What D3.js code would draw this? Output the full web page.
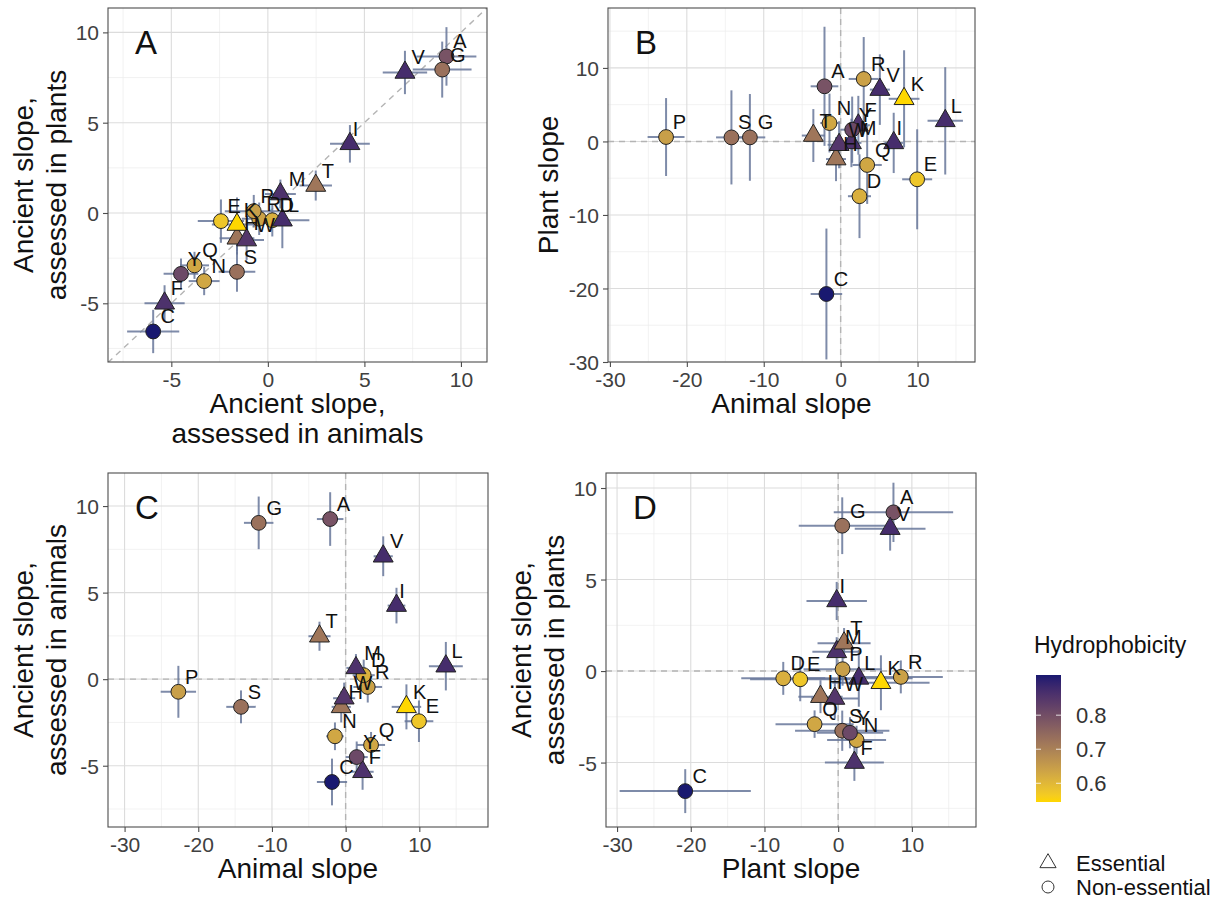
<!DOCTYPE html>
<html>
<head>
<meta charset="utf-8">
<script src="https://cdn.jsdelivr.net/npm/d3@7"></script>
<style>
  body { margin: 0; background: #fff; }
  svg { display: block; font-family: "Liberation Sans", Arial, sans-serif; }
</style>
</head>
<body>
<div id="chart"></div>
<script>
// one-letter amino acid codes and their values
const aminoAcids = ["A", "R", "N", "D", "C", "Q", "E", "G", "H", "I", "L", "K", "M", "F", "P", "S", "T", "W", "Y", "V"];
const hydrophobicity = [0.79, 0.64, 0.63, 0.615, 0.918, 0.63, 0.575, 0.73, 0.72, 0.87, 0.87, 0.545, 0.86, 0.86, 0.645, 0.73, 0.72, 0.85, 0.81, 0.87];
const essential = [false, false, false, false, false, false, false, false, true, true, true, true, true, true, false, false, true, true, false, true];

const animalSlope = [-2.1, 3.0, -1.45, 2.45, -1.85, 3.45, 9.95, -11.8, -0.6, 6.9, 13.6, 8.25, 1.4, 2.3, -22.7, -14.2, -3.55, -0.2, 1.5, 5.1];
const animalErr = [1.8, 1.95, 1.2, 1.5, 2.05, 1.9, 1.95, 2.0, 1.3, 1.2, 2.3, 2.0, 1.3, 1.5, 2.4, 2.0, 1.5, 1.5, 1.5, 1.3];
const plantSlope = [7.5, 8.5, 2.5, -7.45, -20.75, -3.2, -5.15, 0.55, -2.4, -0.2, 2.8, 5.8, -0.2, 2.2, 0.6, 0.55, 0.8, -0.45, 1.6, 7.05];
const plantErr = [8.1, 5.7, 4.0, 5.7, 8.9, 5.3, 6.8, 5.9, 3.0, 4.1, 7.3, 6.6, 3.3, 4.0, 5.3, 6.4, 3.6, 3.2, 4.5, 4.8];
const ancientAnimal = [9.25, -0.45, -3.3, 0.23, -5.94, -3.8, -2.43, 9.03, -1.6, 4.25, 0.75, -1.6, 0.65, -5.35, -0.73, -1.6, 2.48, -1.1, -4.5, 7.1];
const ancientAnimalErr = [1.55, 0.9, 0.8, 0.9, 1.35, 0.75, 1.2, 1.52, 0.9, 1.03, 1.4, 1.3, 0.8, 1.04, 1.5, 0.95, 0.84, 0.9, 0.9, 1.15];
const ancientPlant = [8.67, -0.32, -3.77, -0.4, -6.56, -2.9, -0.45, 7.94, -1.4, 3.83, -0.4, -0.64, 1.05, -5.0, 0.1, -3.26, 1.52, -1.5, -3.37, 7.78];
const ancientPlantErr = [1.62, 0.9, 0.78, 0.9, 1.2, 0.75, 1.2, 1.55, 0.9, 1.04, 1.55, 1.5, 0.8, 1.0, 0.9, 1.1, 0.83, 1.1, 0.85, 1.2];

const colorTicks = [0.6, 0.7, 0.8];

const rows = aminoAcids.map((aa, i) => ({
  aa: aa,
  hydro: hydrophobicity[i],
  essential: essential[i],
  animal: animalSlope[i], animalErr: animalErr[i],
  plant: plantSlope[i], plantErr: plantErr[i],
  ancA: ancientAnimal[i], ancAErr: ancientAnimalErr[i],
  ancP: ancientPlant[i], ancPErr: ancientPlantErr[i]
}));

const width = 1229, height = 901;
const svg = d3.select("#chart").append("svg")
  .attr("width", width)
  .attr("height", height);

const color = d3.scaleSequential(d3.interpolateLab("#FFD700", "#191970"))
  .domain(d3.extent(hydrophobicity));

const pointArea = Math.PI * 7.4 * 7.4;
const circleSym = d3.symbol(d3.symbolCircle, pointArea);
const triangleSym = d3.symbol(d3.symbolTriangle, pointArea);

const panels = [
  { letter: "A", x: "ancA", y: "ancP", box: [108, 8, 487, 362],
    xDomain: [-8.28, 11.35], yDomain: [-8.25, 11.35], xTicks: [-5, 0, 5, 10], yTicks: [-5, 0, 5, 10],
    xTitle: ["Ancient slope,", "assessed in animals"], yTitle: ["Ancient slope,", "assessed in plants"],
    yTitleX: [33, 66], ref: "diagonal" },
  { letter: "B", x: "animal", y: "plant", box: [608, 8, 975, 362],
    xDomain: [-30.25, 17.47], yDomain: [-30, 18.15], xTicks: [-30, -20, -10, 0, 10], yTicks: [-30, -20, -10, 0, 10],
    xTitle: ["Animal slope"], yTitle: ["Plant slope"], yTitleX: [558], ref: "zero" },
  { letter: "C", x: "animal", y: "ancA", box: [108, 473, 488, 827],
    xDomain: [-32.25, 19.32], yDomain: [-8.54, 11.91], xTicks: [-30, -20, -10, 0, 10], yTicks: [-5, 0, 5, 10],
    xTitle: ["Animal slope"], yTitle: ["Ancient slope,", "assessed in animals"],
    yTitleX: [33, 66], ref: "zero" },
  { letter: "D", x: "plant", y: "ancP", box: [606, 473, 976, 827],
    xDomain: [-31.5, 18.7], yDomain: [-8.52, 10.82], xTicks: [-30, -20, -10, 0, 10], yTicks: [-5, 0, 5, 10],
    xTitle: ["Plant slope"], yTitle: ["Ancient slope,", "assessed in plants"],
    yTitleX: [531, 564], ref: "zero" }
];

function minorTicks(ticks, domain) {
  const step = ticks[1] - ticks[0];
  const out = [];
  for (let v = ticks[0] - step / 2; v <= domain[1]; v += step) {
    if (v >= domain[0]) out.push(v);
  }
  return out;
}

panels.forEach((p, pi) => {
  const [left, top, right, bottom] = p.box;
  const x = d3.scaleLinear().domain(p.xDomain).range([left, right]);
  const y = d3.scaleLinear().domain(p.yDomain).range([bottom, top]);
  const g = svg.append("g");

  g.append("clipPath").attr("id", "clip" + pi)
    .append("rect").attr("x", left).attr("y", top)
    .attr("width", right - left).attr("height", bottom - top);

  // grid
  const grid = g.append("g");
  grid.selectAll(".mx").data(minorTicks(p.xTicks, p.xDomain)).enter().append("line")
    .attr("x1", d => x(d)).attr("x2", d => x(d)).attr("y1", top).attr("y2", bottom)
    .attr("stroke", "#ececec").attr("stroke-width", 0.7);
  grid.selectAll(".my").data(minorTicks(p.yTicks, p.yDomain)).enter().append("line")
    .attr("y1", d => y(d)).attr("y2", d => y(d)).attr("x1", left).attr("x2", right)
    .attr("stroke", "#ececec").attr("stroke-width", 0.7);
  grid.selectAll(".gx").data(p.xTicks).enter().append("line")
    .attr("x1", d => x(d)).attr("x2", d => x(d)).attr("y1", top).attr("y2", bottom)
    .attr("stroke", "#dcdcdc").attr("stroke-width", 1.1);
  grid.selectAll(".gy").data(p.yTicks).enter().append("line")
    .attr("y1", d => y(d)).attr("y2", d => y(d)).attr("x1", left).attr("x2", right)
    .attr("stroke", "#dcdcdc").attr("stroke-width", 1.1);

  // reference lines
  const ref = g.append("g").attr("clip-path", `url(#clip${pi})`)
    .attr("stroke", "#b4b4b4").attr("stroke-width", 1.4).attr("stroke-dasharray", "6,5").attr("fill", "none");
  if (p.ref === "diagonal") {
    const lo = Math.min(p.xDomain[0], p.yDomain[0]), hi = Math.max(p.xDomain[1], p.yDomain[1]);
    ref.append("line").attr("x1", x(lo)).attr("y1", y(lo)).attr("x2", x(hi)).attr("y2", y(hi));
  } else {
    ref.append("line").attr("x1", left).attr("x2", right).attr("y1", y(0)).attr("y2", y(0));
    ref.append("line").attr("x1", x(0)).attr("x2", x(0)).attr("y1", top).attr("y2", bottom);
  }

  // error bars
  const bars = g.append("g").attr("clip-path", `url(#clip${pi})`)
    .attr("stroke", "#67779a").attr("stroke-width", 2).attr("stroke-opacity", 0.85);
  bars.selectAll(".ev").data(rows).enter().append("line")
    .attr("x1", d => x(d[p.x])).attr("x2", d => x(d[p.x]))
    .attr("y1", d => y(d[p.y] - d[p.y + "Err"])).attr("y2", d => y(d[p.y] + d[p.y + "Err"]));
  bars.selectAll(".eh").data(rows).enter().append("line")
    .attr("y1", d => y(d[p.y])).attr("y2", d => y(d[p.y]))
    .attr("x1", d => x(d[p.x] - d[p.x + "Err"])).attr("x2", d => x(d[p.x] + d[p.x + "Err"]));

  // points
  g.append("g").selectAll("path").data(rows).enter().append("path")
    .attr("d", d => d.essential ? triangleSym() : circleSym())
    .attr("transform", d => `translate(${x(d[p.x])},${y(d[p.y])})`)
    .attr("fill", d => color(d.hydro))
    .attr("stroke", "#222").attr("stroke-width", 1);

  // labels
  g.append("g").selectAll("text").data(rows).enter().append("text")
    .attr("font-size", 20).attr("fill", "#111")
    .attr("y", d => y(d[p.y]) - 8)
    .text(d => d.aa)
    .each(function (d) {
      const w = this.getComputedTextLength();
      d3.select(this).attr("x", x(d[p.x]) + 0.5 * w);
    });

  // border
  g.append("rect").attr("x", left).attr("y", top)
    .attr("width", right - left).attr("height", bottom - top)
    .attr("fill", "none").attr("stroke", "#4d4d4d").attr("stroke-width", 1.1);

  // axes
  const xAxis = g.append("g").attr("transform", `translate(0,${bottom})`)
    .call(d3.axisBottom(x).tickValues(p.xTicks).tickSize(5).tickPadding(4).tickFormat(d => String(d)));
  const yAxis = g.append("g").attr("transform", `translate(${left},0)`)
    .call(d3.axisLeft(y).tickValues(p.yTicks).tickSize(5).tickPadding(4).tickFormat(d => String(d)));
  [xAxis, yAxis].forEach(a => {
    a.select(".domain").remove();
    a.selectAll(".tick line").attr("stroke", "#4d4d4d").attr("stroke-width", 1.1);
    a.selectAll(".tick text").attr("fill", "#404040").attr("font-size", 21)
      .attr("font-family", "Liberation Sans, Arial, sans-serif");
  });
  yAxis.selectAll(".tick text").attr("dy", "0.36em");
  xAxis.selectAll(".tick text").attr("dy", "0.78em");

  // titles
  const cx = (left + right) / 2, cy = (top + bottom) / 2;
  p.xTitle.forEach((t, i) => {
    g.append("text").attr("x", cx).attr("y", bottom + 51 + i * 30)
      .attr("text-anchor", "middle").attr("font-size", 28).attr("fill", "#111").text(t);
  });
  p.yTitle.forEach((t, i) => {
    g.append("text").attr("transform", `translate(${p.yTitleX[i]},${cy}) rotate(-90)`)
      .attr("text-anchor", "middle").attr("font-size", 28).attr("fill", "#111").text(t);
  });

  g.append("text").attr("x", left + 27).attr("y", top + 46)
    .attr("font-size", 33).attr("fill", "#111").text(p.letter);
});

// colour legend
const legend = svg.append("g");
legend.append("text").attr("x", 1034).attr("y", 653)
  .attr("font-size", 23).attr("fill", "#111").text("Hydrophobicity");

const barTop = 675, barBottom = 802, barLeft = 1036, barW = 25;
const cbar = d3.scaleLinear().domain(d3.extent(hydrophobicity)).range([barBottom, barTop]);
const grad = svg.append("defs").append("linearGradient").attr("id", "hgrad")
  .attr("x1", 0).attr("y1", 1).attr("x2", 0).attr("y2", 0);
d3.range(0, 1.0001, 0.05).forEach(t => {
  grad.append("stop").attr("offset", t)
    .attr("stop-color", color(cbar.domain()[0] + t * (cbar.domain()[1] - cbar.domain()[0])));
});
legend.append("rect").attr("x", barLeft).attr("y", barTop)
  .attr("width", barW).attr("height", barBottom - barTop).attr("fill", "url(#hgrad)");
colorTicks.forEach(v => {
  legend.append("line").attr("x1", barLeft).attr("x2", barLeft + 5)
    .attr("y1", cbar(v)).attr("y2", cbar(v)).attr("stroke", "#fff").attr("stroke-opacity", 0.8);
  legend.append("line").attr("x1", barLeft + barW - 5).attr("x2", barLeft + barW)
    .attr("y1", cbar(v)).attr("y2", cbar(v)).attr("stroke", "#fff").attr("stroke-opacity", 0.8);
  legend.append("text").attr("x", 1076).attr("y", cbar(v)).attr("dy", "0.36em")
    .attr("font-size", 22).attr("fill", "#333").text(v.toFixed(1));
});

// shape legend
const shapes = [
  { label: "Essential", type: d3.symbolTriangle, y: 863 },
  { label: "Non-essential", type: d3.symbolCircle, y: 887 }
];
shapes.forEach(s => {
  legend.append("path").attr("d", d3.symbol(s.type, Math.PI * 36)())
    .attr("transform", `translate(1048,${s.y})`)
    .attr("fill", "#fff").attr("stroke", "#333").attr("stroke-width", 1);
  legend.append("text").attr("x", 1076).attr("y", s.y).attr("dy", "0.36em")
    .attr("font-size", 22).attr("fill", "#111").text(s.label);
});
</script>
</body>
</html>
